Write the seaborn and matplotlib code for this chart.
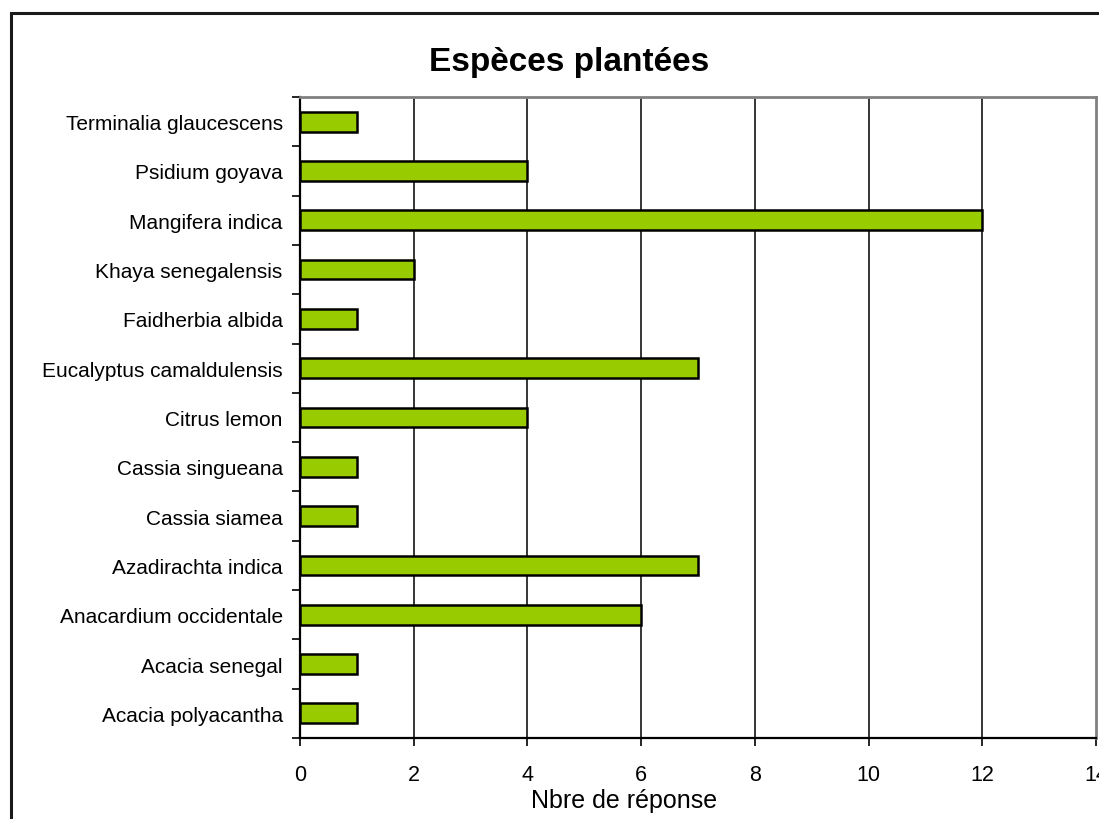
import matplotlib
matplotlib.use("Agg")
import matplotlib.pyplot as plt
import seaborn as sns
import pandas as pd
from matplotlib.patches import Rectangle
from matplotlib.ticker import FixedLocator

species = [
    "Terminalia glaucescens",
    "Psidium goyava",
    "Mangifera indica",
    "Khaya senegalensis",
    "Faidherbia albida",
    "Eucalyptus camaldulensis",
    "Citrus lemon",
    "Cassia singueana",
    "Cassia siamea",
    "Azadirachta indica",
    "Anacardium occidentale",
    "Acacia senegal",
    "Acacia polyacantha",
]
responses = [1, 4, 12, 2, 1, 7, 4, 1, 1, 7, 6, 1, 1]
x_ticks = [0, 2, 4, 6, 8, 10, 12, 14]

df = pd.DataFrame({"espece": species, "n": responses})

sns.set_theme(style="white")
plt.rcParams["font.family"] = ["Liberation Sans", "DejaVu Sans"]

W, H = 1099, 820
fig = plt.figure(figsize=(W / 100, H / 100), dpi=100)
ax = fig.add_axes([300 / W, 1 - 739 / H, (1096 - 300) / W, (739 - 98) / H])

sns.barplot(data=df, x="n", y="espece", orient="h", order=species,
            color="#99CC00", saturation=1, width=0.4,
            edgecolor="black", linewidth=1.8, ax=ax, zorder=3)

ax.set_xlim(0, 14)
ax.set_ylim(len(species) - 0.5, -0.5)
ax.set_xticks(x_ticks)
ax.set_xticklabels([str(t) for t in x_ticks], fontsize=15.5)
ax.tick_params(axis="x", direction="out", length=6, width=1.2, color="black",
               pad=13, bottom=True)

# category labels at centres, tick marks between categories
ax.tick_params(axis="y", which="major", length=0, pad=12.5, labelsize=15)
ax.yaxis.set_minor_locator(FixedLocator([i - 0.5 for i in range(len(species) + 1)]))
ax.tick_params(axis="y", which="minor", direction="out", length=6, width=1.2,
               color="black", left=True)

for t in x_ticks[1:-1]:
    ax.axvline(t, color="black", linewidth=1.1, zorder=1)

ax.set_xlabel("")
ax.set_ylabel("")
for side in ("left", "bottom"):
    ax.spines[side].set_color("black")
    ax.spines[side].set_linewidth(1.6)
for side in ("top", "right"):
    ax.spines[side].set_color("#808080")
    ax.spines[side].set_linewidth(2)
    ax.spines[side].set_visible(True)
ax.tick_params(colors="black", labelcolor="black")

fig.text(569 / W, 1 - 62 / H, "Espèces plantées", fontsize=24,
         fontweight="bold", ha="center", va="center", color="black")
fig.text(624 / W, 1 - 801 / H, "Nbre de réponse", fontsize=18,
         ha="center", va="center", color="black")

# outer chart frame
fig.patches.append(Rectangle((11 / W, -0.05), 1.2, 1 - 14 / H + 0.05,
                             transform=fig.transFigure, fill=False,
                             edgecolor="#1a1a1a", linewidth=2.2))

fig.savefig("out.png", dpi=100)
